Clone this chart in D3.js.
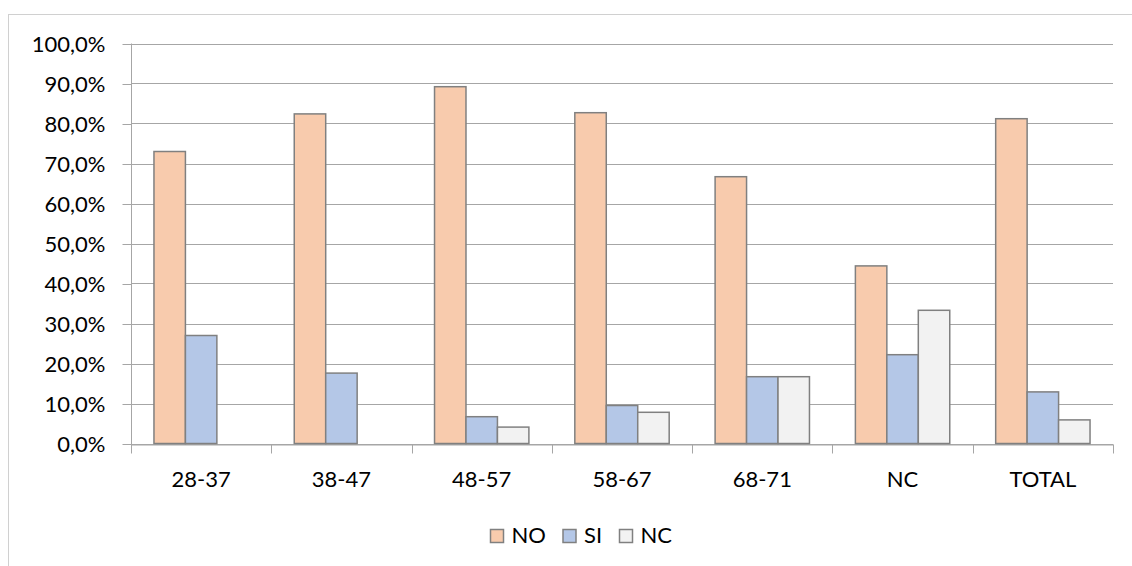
<!DOCTYPE html>
<html>
<head>
<meta charset="utf-8">
<script src="https://cdn.jsdelivr.net/npm/d3@7/dist/d3.min.js"></script>
<style>
  html, body { margin: 0; padding: 0; background: #fff; }
  svg { display: block; font-family: Lato, "Open Sans", sans-serif; }
</style>
</head>
<body>
<svg id="chart" width="1132" height="566"></svg>
<script>
const categories = ["28-37", "38-47", "48-57", "58-67", "68-71", "NC", "TOTAL"];
const seriesNames = ["NO", "SI", "NC"];
const valuesNO = [73.0, 82.4, 89.2, 82.7, 66.7, 44.4, 81.2];
const valuesSI = [27.0, 17.6, 6.7, 9.5, 16.7, 22.2, 12.9];
const valuesNC = [0.0, 0.0, 4.1, 7.8, 16.7, 33.3, 5.9];
const yTicks = [0, 10, 20, 30, 40, 50, 60, 70, 80, 90, 100];
const colors = ["#F8CBAD", "#B4C7E7", "#F2F2F2"];

(function () {
const series = [valuesNO, valuesSI, valuesNC];
const svg = d3.select("#chart");
const FS = 22;

// outer chart border
svg.append("rect")
  .attr("x", 8.5).attr("y", 14.5)
  .attr("width", 1200).attr("height", 600)
  .attr("fill", "none").attr("stroke", "#D0D0D0").attr("stroke-width", 1);

const pLeft = 131, pRight = 1113, pTop = 43.5, pBottom = 443.5;

const x = d3.scaleBand().domain(categories).range([pLeft, pRight]).paddingInner(0).paddingOuter(0);
const y = d3.scaleLinear().domain([0, 100]).range([pBottom, pTop]);

const fmt = v => d3.format(".1f")(v).replace(".", ",") + "%";

// gridlines
svg.append("g").selectAll("line").data(yTicks).join("line")
  .attr("x1", pLeft).attr("x2", pRight)
  .attr("y1", d => Math.round(y(d)) + 0.5).attr("y2", d => Math.round(y(d)) + 0.5)
  .attr("stroke", "#A6A6A6").attr("stroke-width", 1);

// y axis
const yAxis = d3.axisLeft(y).tickValues(yTicks).tickFormat(fmt).tickSize(9).tickPadding(17);
const gy = svg.append("g").attr("transform", `translate(${pLeft + 0.5},0.5)`).call(yAxis);
gy.select(".domain").attr("stroke", "#A6A6A6").attr("d", `M0,${pTop - 0.5}V${pBottom + 0.5}`);
gy.selectAll(".tick line").attr("stroke", "#A6A6A6");
gy.selectAll(".tick text").attr("font-size", FS).attr("fill", "#000").attr("font-family", "Lato");

// x axis
const xAxis = d3.axisBottom(x).tickSize(0).tickPadding(27);
const gx = svg.append("g").attr("transform", `translate(0,${Math.round(pBottom) + 0.5})`).call(xAxis);
gx.select(".domain").attr("stroke", "#A6A6A6");
gx.selectAll(".tick text").attr("font-size", FS).attr("fill", "#000").attr("font-family", "Lato");
// category boundary ticks
gx.append("g").selectAll("line").data(d3.range(categories.length + 1)).join("line")
  .attr("x1", i => Math.round(pLeft + i * x.bandwidth()) + 0.5)
  .attr("x2", i => Math.round(pLeft + i * x.bandwidth()) + 0.5)
  .attr("y1", 0).attr("y2", 9)
  .attr("stroke", "#A6A6A6");

// bars
const inner = d3.scaleBand().domain(seriesNames).range([0, x.bandwidth()]).paddingOuter(0.73).paddingInner(0);
seriesNames.forEach((name, si) => {
  svg.append("g").selectAll("rect").data(series[si]).join("rect")
    .attr("x", (d, i) => x(categories[i]) + inner(name))
    .attr("width", inner.bandwidth())
    .attr("y", d => y(d))
    .attr("height", d => y(0) - y(d))
    .attr("fill", colors[si])
    .attr("stroke", d => d > 0 ? "#808080" : "none")
    .attr("stroke-width", 1.5);
});

// legend
const legendItems = [
  { name: "NO", sx: 490.5 },
  { name: "SI", sx: 563 },
  { name: "NC", sx: 619.5 }
];
const lg = svg.append("g");
legendItems.forEach((it, i) => {
  lg.append("rect").attr("x", it.sx).attr("y", 529.5).attr("width", 13).attr("height", 13)
    .attr("fill", colors[i]).attr("stroke", "#808080").attr("stroke-width", 1.5);
  lg.append("text").attr("x", it.sx + 21).attr("y", 543)
    .attr("font-size", FS).attr("font-family", "Lato").attr("fill", "#000").text(it.name);
});
})();
</script>
</body>
</html>
